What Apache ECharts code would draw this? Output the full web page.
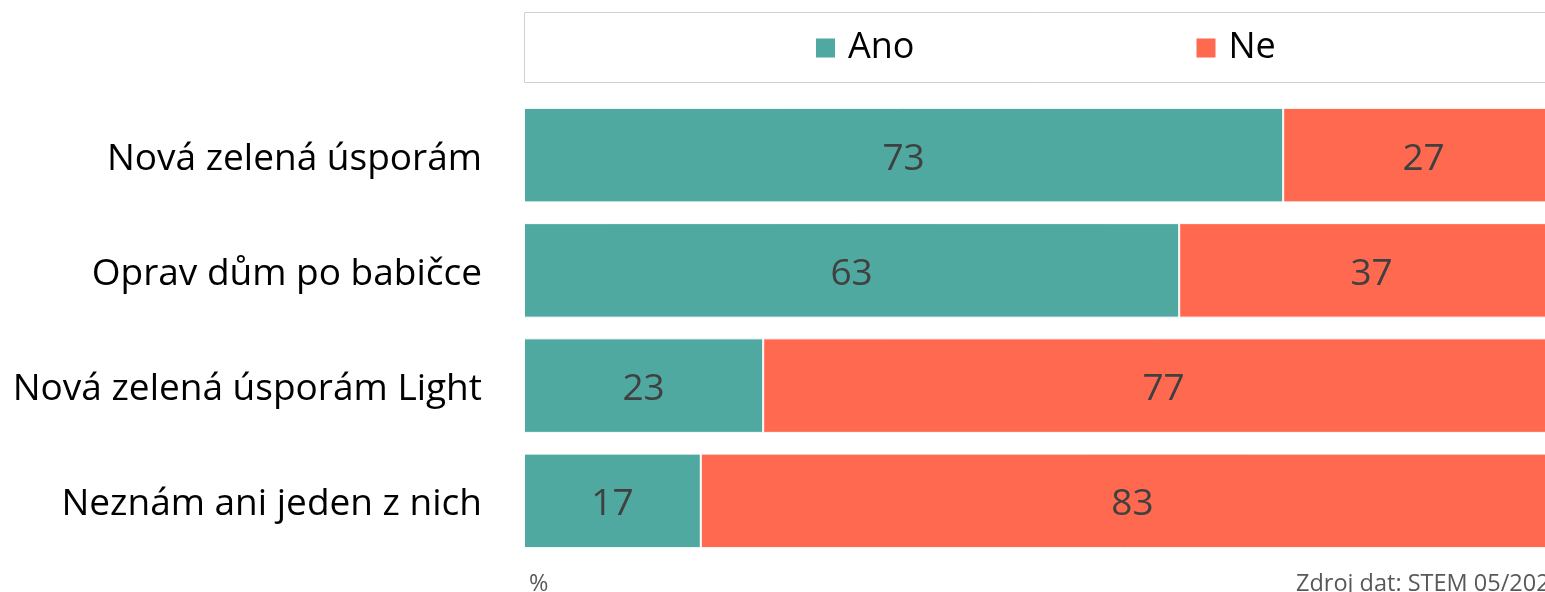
<!DOCTYPE html>
<html><head><meta charset="utf-8">
<script src="https://cdn.jsdelivr.net/npm/echarts@6/dist/echarts.min.js"></script>
<style>html,body{margin:0;padding:0;background:#fff}#c{width:1545px;height:592px}</style>
</head><body><div id="c"></div>
<script>
const categories = ["Nová zelená úsporám", "Oprav dům po babičce", "Nová zelená úsporám Light", "Neznám ani jeden z nich"];
const seriesNames = ["Ano", "Ne"];
const anoValues = [73, 63, 23, 17];
const neValues = [27, 37, 77, 83];
const unitLabel = "%";
const sourceLabel = "Zdroj dat: STEM 05/2023";

const FONT = "'Open Sans', 'Noto Sans', sans-serif";
const chart = echarts.init(document.getElementById('c'));
const labelCfg = {show: true, position: 'inside', color: '#404040', fontSize: 37, fontFamily: FONT, offset: [0, 4]};
chart.setOption({
  animation: false,
  grid: {left: 524, top: 97.5, width: 1040, height: 461, containLabel: false, outerBoundsMode: 'none'},
  legend: {
    data: seriesNames, left: 814, top: 30, padding: 0, itemWidth: 21, itemHeight: 21, itemGap: 280,
    icon: 'rect',
    textStyle: {fontSize: 36, fontFamily: FONT, color: '#000', lineHeight: 21, padding: [0,0,0,7]}
  },
  xAxis: {type: 'value', min: 0, max: 100, show: false},
  yAxis: {
    type: 'category', data: categories, inverse: true,
    axisLine: {show: false}, axisTick: {show: false},
    axisLabel: {margin: 42, formatter: '{a|{value}}',
      rich: {a: {fontSize: 37, fontFamily: FONT, color: '#000', padding: [8, 0, 0, 0]}}}
  },
  graphic: [
    {type: 'rect', shape: {x: 524.5, y: 12.5, width: 1040, height: 70}, style: {fill: 'none', stroke: '#d0d0d0', lineWidth: 1}, z: -1},
    {type: 'text', left: 529, top: 572, style: {text: unitLabel, fontSize: 23.5, fontFamily: FONT, fill: '#595959'}},
    {type: 'text', left: 1296, top: 572, style: {text: sourceLabel, fontSize: 23.5, fontFamily: FONT, fill: '#595959'}}
  ],
  series: [
    {name: seriesNames[0], type: 'bar', stack: 't', data: anoValues, barCategoryGap: '18%',
     itemStyle: {color: '#4FA9A0', borderColor: '#fff', borderWidth: 1}, label: labelCfg},
    {name: seriesNames[1], type: 'bar', stack: 't', data: neValues, barCategoryGap: '18%',
     itemStyle: {color: '#FF6950', borderColor: '#fff', borderWidth: 1}, label: labelCfg}
  ]
});
</script></body></html>
